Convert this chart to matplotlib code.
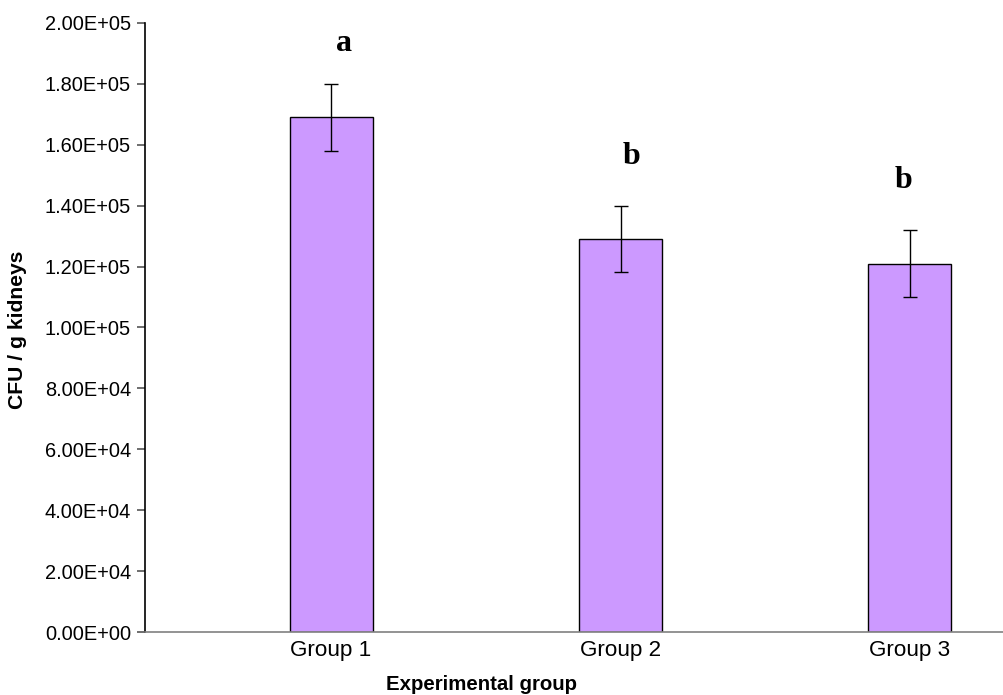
import numpy as np
import matplotlib
matplotlib.use('Agg')
import matplotlib.pyplot as plt
from matplotlib.ticker import FuncFormatter, MultipleLocator

# Data
groups = ['Group 1', 'Group 2', 'Group 3']
cfu_means = [169000, 129000, 121000]
cfu_errors = [11000, 10800, 10900]
sig_letters = ['a', 'b', 'b']
letter_x = [0.045, 1.038, 1.979]
letter_y = [190900, 153600, 145700]

plt.rcParams['font.family'] = ['Liberation Sans', 'DejaVu Sans']

fig = plt.figure(figsize=(10.04, 6.95), dpi=100)
ax = fig.add_axes([145 / 1004, 63 / 695, (1004 - 145) / 1004, (632 - 23) / 695])

x = np.arange(len(groups))
ax.bar(x, cfu_means, width=0.287, color='#CC99FF', edgecolor='black', linewidth=1.0,
       zorder=2)
ax.errorbar(x, cfu_means, yerr=cfu_errors, fmt='none', ecolor='black', elinewidth=1.0,
            capsize=5, capthick=1.0, zorder=3)

for lx, ly, txt in zip(letter_x, letter_y, sig_letters):
    ax.text(lx, ly, txt, ha='center', va='baseline', fontsize=23, fontweight='bold',
            family=['Liberation Serif', 'DejaVu Serif'])

ax.set_xlim(-0.643, 2.325)
ax.set_ylim(0, 200000)
ax.yaxis.set_major_locator(MultipleLocator(20000))
ax.yaxis.set_major_formatter(FuncFormatter(lambda v, p: f'{v:.2E}'))

ax.set_xticks(x)
ax.set_xticklabels(groups, fontsize=16.2)
ax.tick_params(axis='x', length=0, pad=6)
ax.tick_params(axis='y', length=6, width=1.2, color='#555555', labelsize=14.4, pad=4)

for side in ['top', 'right']:
    ax.spines[side].set_visible(False)
ax.spines['left'].set_color('black')
ax.spines['left'].set_linewidth(1.2)
ax.spines['bottom'].set_color('#808080')
ax.spines['bottom'].set_linewidth(1.2)

ax.set_xlabel('Experimental group', fontsize=14.7, fontweight='bold')
ax.set_ylabel('CFU / g kidneys', fontsize=15.2, fontweight='bold')
ax.xaxis.set_label_coords((482 - 145) / (1004 - 145), -(675 - 632) / (632 - 23))
ax.yaxis.set_label_coords(-(145 - 27) / (1004 - 145), (632 - 330) / (632 - 23))

fig.savefig('out.png', dpi=100)
